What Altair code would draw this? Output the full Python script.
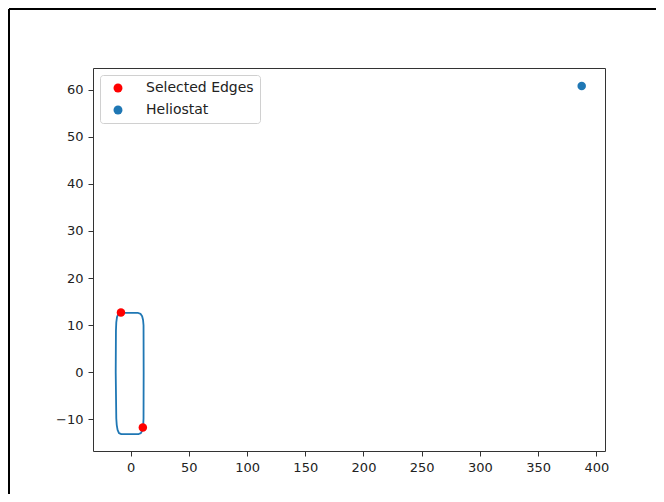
import altair as alt
import pandas as pd

# Rounded outline (blue curve)
outline_x = [-8.0, 6.5, 8.6, 9.9, 10.7, 11.1, 11.2, 11.1, 10.8, 10.1, 8.8, 7.0, -8.0, -10.0, -11.2, -11.9, -12.3, -12.8, -12.6, -12.3, -11.7, -10.7, -9.2, -8.0]
outline_y = [12.6, 12.6, 12.4, 11.9, 11.1, 10.0, 0.0, -9.8, -11.3, -12.3, -12.9, -13.1, -13.1, -12.9, -12.2, -11.2, -9.8, 0.0, 8.8, 10.6, 11.7, 12.3, 12.6, 12.6]

# Scatter points
point_series = ["Selected Edges", "Selected Edges", "Heliostat"]
point_x = [-8.3, 10.5, 387.4]
point_y = [12.7, -11.7, 60.8]

x_ticks = [0, 50, 100, 150, 200, 250, 300, 350, 400]
y_ticks = [-10, 0, 10, 20, 30, 40, 50, 60]
x_domain = [-32.3, 407.4]
y_domain = [-16.7, 64.6]

outline_df = pd.DataFrame({"x": outline_x, "y": outline_y, "i": list(range(len(outline_x)))})
points_df = pd.DataFrame({"series": point_series, "x": point_x, "y": point_y})

xs = alt.Scale(domain=x_domain, nice=False, zero=False)
ys = alt.Scale(domain=y_domain, nice=False, zero=False)
xa = alt.Axis(values=x_ticks, title=None, grid=False)
ya = alt.Axis(values=y_ticks, title=None, grid=False)

line = alt.Chart(outline_df).mark_line(color="#1f77b4", strokeWidth=1.8, strokeJoin="round").encode(
    x=alt.X("x:Q", scale=xs, axis=xa),
    y=alt.Y("y:Q", scale=ys, axis=ya),
    order="i:Q",
)

pts = alt.Chart(points_df).mark_circle(size=72, opacity=1).encode(
    x=alt.X("x:Q", scale=xs, axis=xa),
    y=alt.Y("y:Q", scale=ys, axis=ya),
    color=alt.Color(
        "series:N",
        scale=alt.Scale(domain=["Selected Edges", "Heliostat"], range=["#ff0000", "#1f77b4"]),
        legend=alt.Legend(title=None, orient="top-left"),
    ),
)

frame_df = pd.DataFrame({"k": [1]})
frame_left = alt.Chart(frame_df).mark_rule(color="black", strokeWidth=2).encode(
    x=alt.value(-84), y=alt.value(-59), y2=alt.value(440)
)
frame_top = alt.Chart(frame_df).mark_rule(color="black", strokeWidth=2).encode(
    x=alt.value(-84), x2=alt.value(580), y=alt.value(-59)
)

chart = alt.layer(line, pts, frame_left, frame_top).properties(
    width=512,
    height=383,
    padding={"left": 85, "top": 60, "right": 51, "bottom": 43},
    autosize=alt.AutoSizeParams(type="none"),
).configure_view(
    stroke="#333333", strokeWidth=1
).configure_axis(
    domain=False,
    tickColor="#333333",
    tickSize=5,
    tickWidth=1,
    labelFont="DejaVu Sans",
    labelFontSize=13,
    labelColor="#222222",
    labelPadding=5,
).configure_legend(
    offset=7,
    padding=6,
    symbolOffset=5,
    labelOffset=21,
    strokeColor="#d0d0d0",
    cornerRadius=3,
    fillColor="white",
    labelFont="DejaVu Sans",
    labelFontSize=14,
    labelColor="#222222",
    symbolSize=80,
    rowPadding=8,
    symbolType="circle",
)

chart.save("out.html", embed_options={"renderer": "svg", "actions": False})
